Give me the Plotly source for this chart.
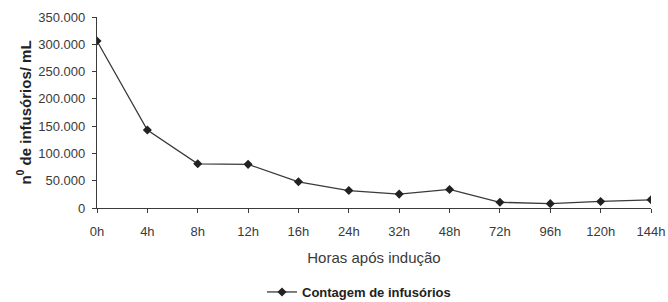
import plotly.graph_objects as go

categories = ["0h", "4h", "8h", "12h", "16h", "24h", "32h", "48h", "72h", "96h", "120h", "144h"]
counts = [306000, 143000, 81000, 80000, 48000, 32000, 25500, 34000, 10500, 8000, 12000, 15000]
y_ticks = [0, 50000, 100000, 150000, 200000, 250000, 300000, 350000]
y_tick_labels = ["0", "50.000", "100.000", "150.000", "200.000", "250.000", "300.000", "350.000"]

W, H = 668, 302
ink = "#3a3a3a"
fig = go.Figure()
fig.add_trace(go.Scatter(
    x=list(range(len(categories))), y=counts, mode="lines+markers",
    name="<b>Contagem de infusórios</b>",
    line=dict(color=ink, width=1.3),
    marker=dict(symbol="diamond", size=7, color="#222"),
))
fig.update_layout(
    width=W, height=H,
    margin=dict(l=97, r=17, t=17, b=94, autoexpand=False),
    paper_bgcolor="white", plot_bgcolor="white",
    font=dict(family="Liberation Sans, Arial, sans-serif", size=13, color=ink),
    showlegend=True,
    legend=dict(orientation="h", x=(268 - 6) / W, xanchor="left", xref="container",
                y=1 - 292 / H, yanchor="middle", yref="container",
                font=dict(size=13, color="#222"), itemwidth=30),
)
fig.update_xaxes(
    range=[0, len(categories) - 1], automargin=False,
    tickmode="array", tickvals=list(range(len(categories))), ticktext=categories,
    showline=True, linecolor=ink, linewidth=1.3, ticks="outside", ticklen=4, tickcolor=ink,
    ticklabelstandoff=7,
    showgrid=False, zeroline=False,
    title=dict(text="Horas após indução", standoff=14, font=dict(size=15)),
)
fig.update_yaxes(
    range=[0, 350000], automargin=False,
    tickmode="array", tickvals=y_ticks, ticktext=y_tick_labels,
    showline=True, linecolor=ink, linewidth=1.3, ticks="outside", ticklen=4, tickcolor=ink,
    ticklabelstandoff=4,
    showgrid=False, zeroline=False,
    title=dict(text="<b>n<sup>0</sup> de infusórios/ mL</b>", standoff=3, font=dict(size=15, color="#222")),
)
fig.write_html("out.html", config={"displayModeBar": False},
               post_script="document.body.style.margin='0';document.body.style.overflow='hidden';")
